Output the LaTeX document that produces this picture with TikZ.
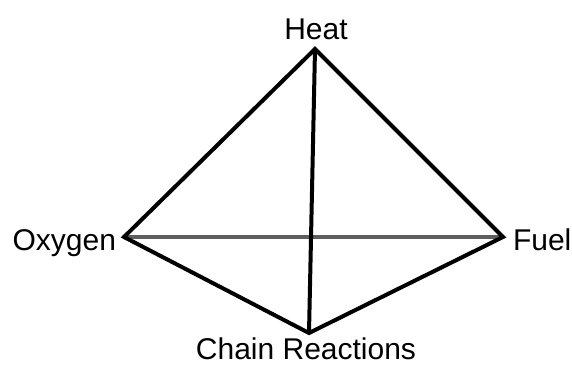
\documentclass[tikz,border=0pt]{standalone}
\usepackage{fontspec}
\setmainfont{Liberation Sans}
\definecolor{midline}{RGB}{95,95,95}
\begin{document}
\begin{tikzpicture}[x=1pt,y=-1pt,line width=4pt,line join=miter,every node/.style={font=\fontsize{30}{32}\selectfont,inner sep=1pt}]
\useasboundingbox (0,0) rectangle (572,365);
\coordinate (H) at (315,49);
\coordinate (O) at (124,237);
\coordinate (F) at (503,237);
\coordinate (C) at (309,333);
\draw[midline] (O) -- (F);
\draw (H) -- (O) -- (C) -- (F) -- cycle;
\draw (H) -- (C);
\node[anchor=base] (heat) at (316,39) {Heat};
\node[anchor=base east] (oxygen) at (119,250) {Oxygen};
\node[anchor=base west] (fuel) at (510,250) {Fuel};
\node[anchor=base,inner sep=0pt] (chain) at (306,359) {Chain Reactions};
\end{tikzpicture}
\end{document}
